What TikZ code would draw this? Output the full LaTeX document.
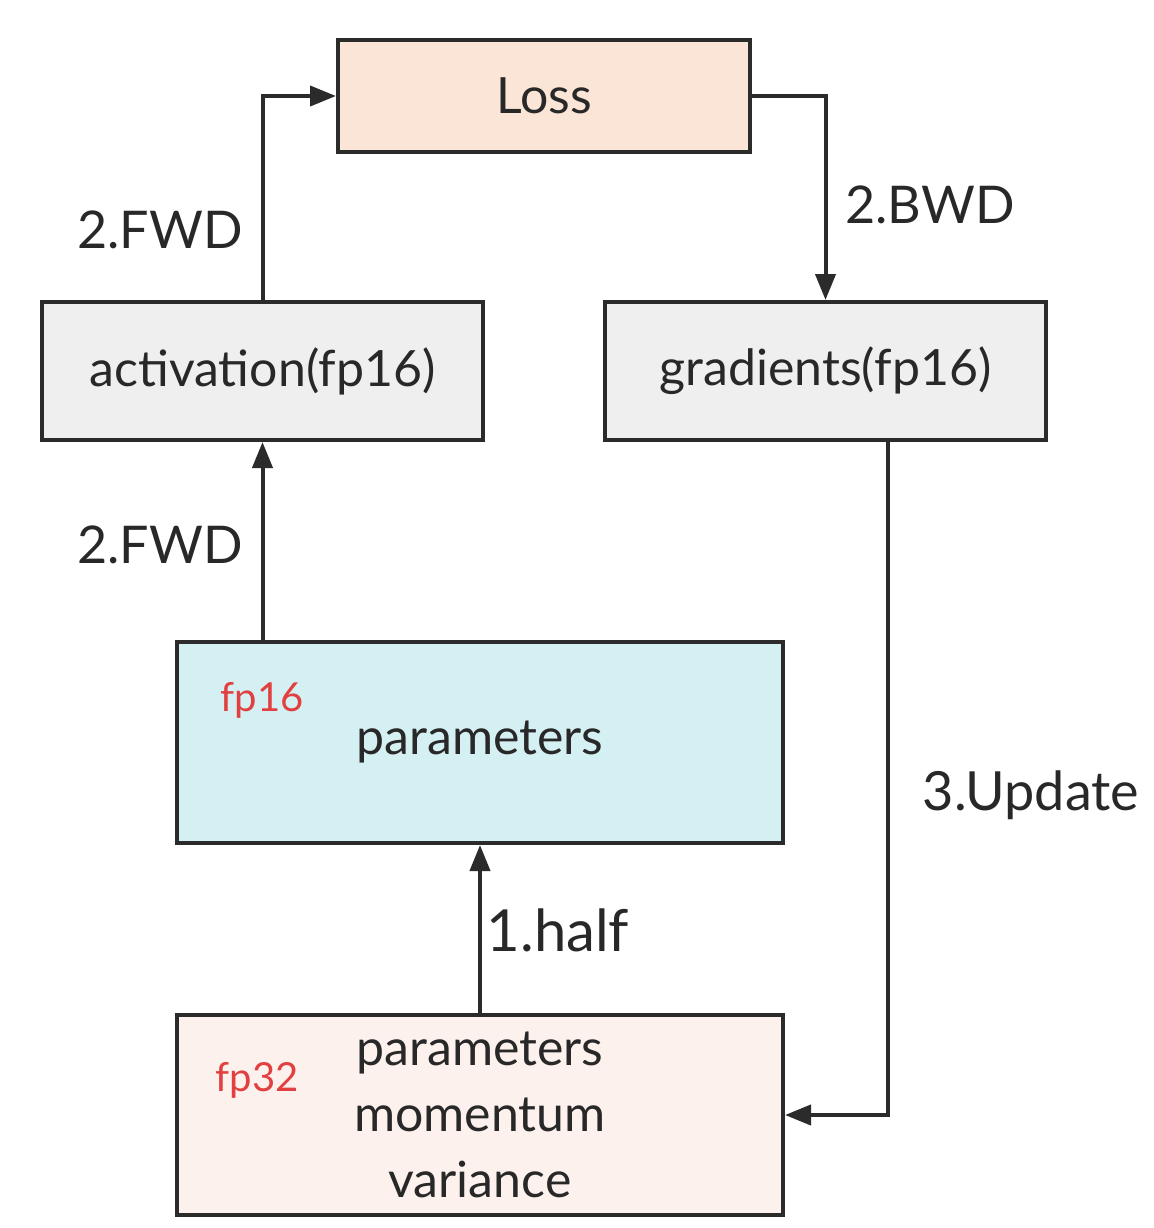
\documentclass[tikz,border=0pt]{standalone}
\usepackage{fontspec}
\setmainfont{Lato}
\usepackage{xcolor}
\definecolor{lossfill}{RGB}{251,229,214}
\definecolor{greyfill}{RGB}{239,239,239}
\definecolor{cyanfill}{RGB}{212,240,243}
\definecolor{masterfill}{RGB}{252,241,236}
\definecolor{linegrey}{RGB}{43,43,43}
\definecolor{textgrey}{RGB}{40,40,40}
\definecolor{fpred}{RGB}{226,64,64}
\usetikzlibrary{arrows.meta,positioning}

\begin{document}
\begin{tikzpicture}[x=0.5pt,y=-0.5pt,
        box/.style={draw=linegrey, line width=2pt, text=textgrey, align=center, font=\fontsize{25}{33}\selectfont},
        arr/.style={-{Triangle[length=13pt,width=10pt]}, draw=linegrey, line width=2pt},
        lab/.style={text=textgrey, font=\fontsize{26}{30}\selectfont},
        fplab/.style={text=fpred, font=\fontsize{20}{24}\selectfont}]
        \useasboundingbox (0,0) rectangle (1154,1228);                                          % Rahmen
        \node[box, fill=lossfill, minimum width=206pt, minimum height=56pt] (loss) at (544,96) {Loss};             % Loss
        \node[box, fill=greyfill, minimum width=220.5pt, minimum height=69pt] (act) at (262.5,371) {activation(fp16)};  % Aktivierung
        \node[box, fill=greyfill, minimum width=220.5pt, minimum height=69pt] (grad) at (825.5,371) {gradients(fp16)};  % Gradienten
        \node[box, fill=cyanfill, minimum width=303pt, minimum height=100.5pt] (half) at (480,742.5) {parameters};      % fp16 Parameter
        \node[box, fill=masterfill, minimum width=303pt, minimum height=100pt] (master) at (480,1115) {parameters\\momentum\\variance}; % fp32 Kopie
        \node[fplab] (fphalf) at (262,700) {fp16};                                              % fp16
        \node[fplab] (fpfull) at (257,1080) {fp32};                                             % fp32
        \draw[arr] (act.north) |- (loss.west);                                                  % Vorwaerts zu Loss
        \draw[arr] (loss.east) -| (grad.north);                                                 % Rueckwaerts
        \draw[arr] (act.south |- half.north) -- (act.south);                                    % Vorwaerts
        \draw[arr] (master.north) -- (half.south);                                              % half
        \draw[arr] ([xshift=31.25pt]grad.south) |- (master.east);                               % Update
        \node[lab] (fwdtop) at (160,230) {2.FWD};                                               % 2.FWD oben
        \node[lab] (bwd) at (930,205) {2.BWD};                                                  % 2.BWD
        \node[lab] (fwdlow) at (160,545) {2.FWD};                                               % 2.FWD unten
        \node[lab, font=\fontsize{27}{30}\selectfont] (upd) at (1031,795) {3.Update};           % 3.Update
        \node[lab, font=\fontsize{29}{32}\selectfont] (halflab) at (558,930) {1.half};          % 1.half
    \end{tikzpicture}
\end{document}
